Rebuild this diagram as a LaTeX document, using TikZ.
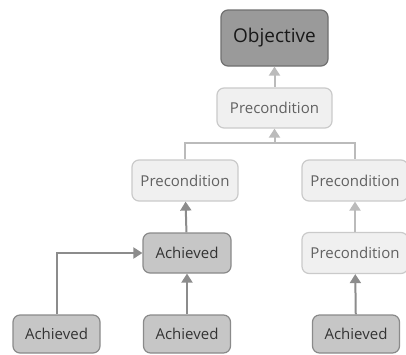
\documentclass[tikz,border=0pt]{standalone}
\usepackage{fontspec}
\setmainfont{Open Sans}
\usetikzlibrary{arrows.meta}
\definecolor{objfill}{HTML}{9A9A9A}
\definecolor{objdraw}{HTML}{707070}
\definecolor{prefill}{HTML}{F0F0F0}
\definecolor{predraw}{HTML}{CACACA}
\definecolor{achfill}{HTML}{C6C6C6}
\definecolor{achdraw}{HTML}{8A8A8A}
\definecolor{lightline}{HTML}{BBBBBB}
\definecolor{darkline}{HTML}{8C8C8C}
\tikzset{
  objbox/.style={draw=objdraw, fill=objfill, line width=1.2pt, rounded corners=7pt,
    minimum width=107pt, minimum height=56pt, font=\fontsize{19}{21}\selectfont, text=black!90},
  prebox/.style={draw=predraw, fill=prefill, line width=1.2pt, rounded corners=7pt,
    minimum width=106pt, minimum height=41pt, font=\fontsize{15}{17}\selectfont, text=black!62},
  achbox/.style={draw=achdraw, fill=achfill, line width=1.2pt, rounded corners=7pt,
    minimum width=88pt, minimum height=39pt, font=\fontsize{15}{17}\selectfont, text=black!80},
  lightarrow/.style={draw=lightline, line width=2pt, -{Triangle[length=9pt,width=11pt]}},
  darkarrow/.style={draw=darkline, line width=2pt, -{Triangle[length=9pt,width=11pt]}},
}
\begin{document}
\begin{tikzpicture}[x=1pt, y=-1pt]
  \useasboundingbox (0,0) rectangle (406,354);
  \clip (0,0) rectangle (406,354);
  % goal and its precondition
  \node[objbox] (goal) at (274.5,38) {Objective};
  \node[prebox, minimum width=115pt, minimum height=40pt] (pretop) at (274.5,108) {Precondition};
  % second level
  \node[prebox] (preleft) at (185,180.5) {Precondition};
  \node[prebox] (preright) at (355,180.5) {Precondition};
  \node[prebox] (preright2) at (355,253) {Precondition};
  \node[achbox, minimum height=40pt] (achmid) at (187,253) {Achieved};
  % bottom row
  \node[achbox, minimum width=87pt, minimum height=38pt] (achA) at (56.5,334) {Achieved};
  \node[achbox, minimum width=87pt, minimum height=38pt] (achB) at (187,334) {Achieved};
  \node[achbox, minimum width=87pt, minimum height=38pt] (achC) at (356,334) {Achieved};
  \coordinate (joint) at (274.5,143);
  % connectors
  \draw[lightarrow] (pretop) -- (goal);
  \draw[draw=lightline, line width=2pt] (preleft.north) |- (joint) -| (preright.north);
  \draw[lightarrow] (joint) -- (pretop);
  \draw[lightarrow] (preright2) -- (preright);
  \draw[darkarrow] (achmid) -- (preleft);
  \draw[darkarrow] (achB) -- (achmid);
  \draw[darkarrow] (achC) -- (preright2);
  \draw[darkarrow] (achA.north) |- (achmid.west);
\end{tikzpicture}
\end{document}
